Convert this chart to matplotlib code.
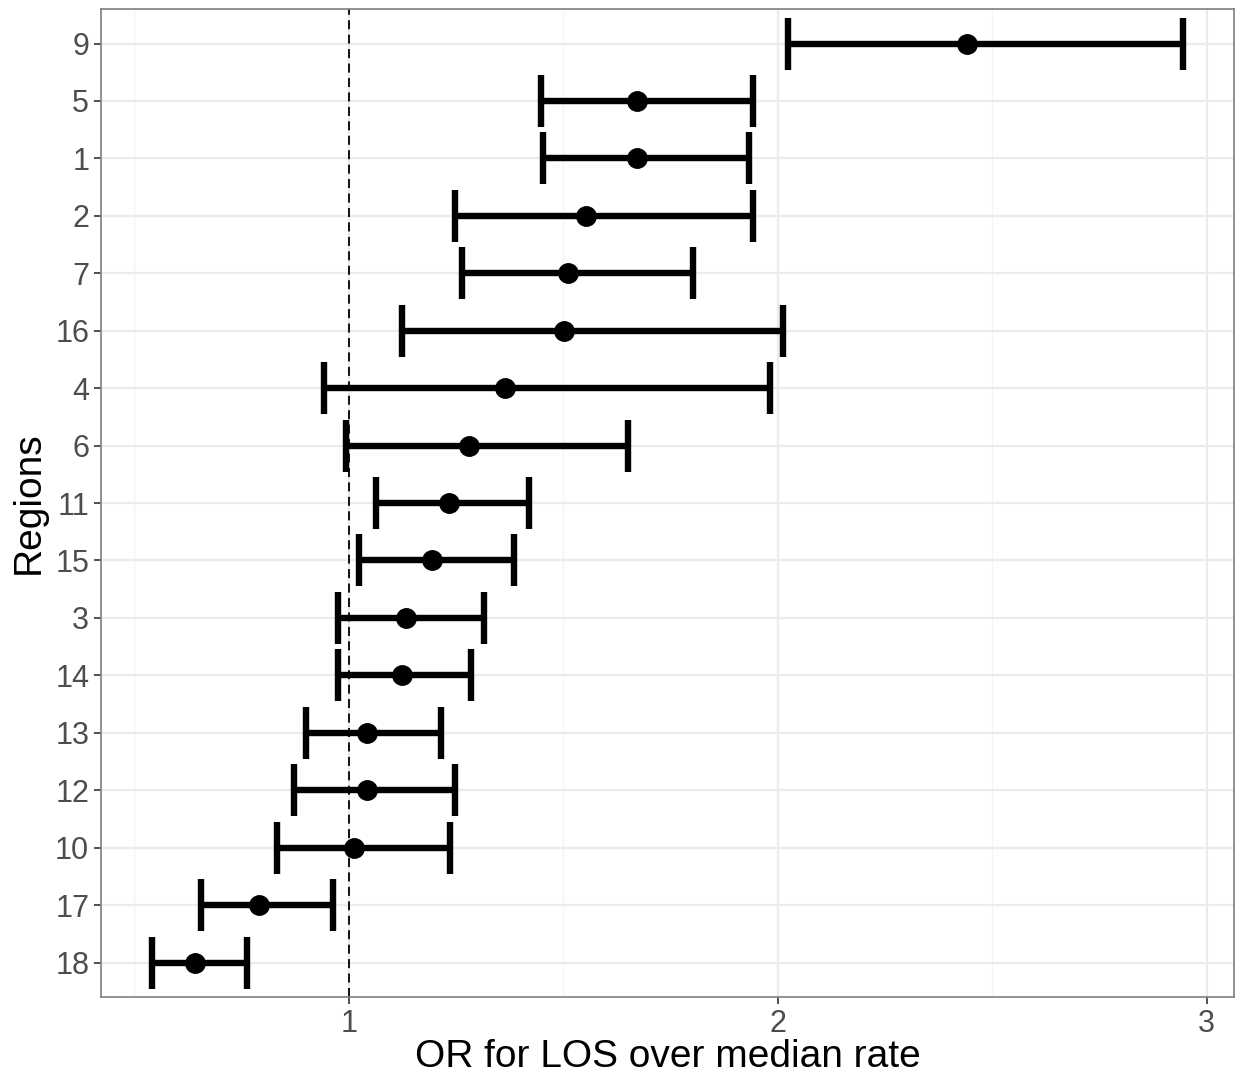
import numpy as np
import matplotlib
matplotlib.use('Agg')
import matplotlib.pyplot as plt

# regions top to bottom
regions = ['9', '5', '1', '2', '7', '16', '4', '6', '11', '15', '3', '14', '13', '12', '10', '17', '18']
or_est = [2.442, 1.672, 1.672, 1.553, 1.512, 1.502, 1.363, 1.281, 1.233, 1.193, 1.133, 1.123, 1.042, 1.042, 1.012, 0.791, 0.642]
ci_lo = [2.023, 1.447, 1.453, 1.247, 1.263, 1.123, 0.942, 0.993, 1.063, 1.023, 0.974, 0.974, 0.900, 0.872, 0.833, 0.656, 0.542]
ci_hi = [2.944, 1.942, 1.933, 1.942, 1.802, 2.012, 1.981, 1.651, 1.421, 1.384, 1.316, 1.284, 1.214, 1.247, 1.235, 0.963, 0.763]

plt.rcParams['font.family'] = ['Liberation Sans', 'DejaVu Sans']

fig = plt.figure(figsize=(12.42, 10.77), dpi=100)
ax = fig.add_axes([0.0813, 0.0743, 0.9936 - 0.0813, 0.9916 - 0.0743])

n = len(regions)
y = np.arange(n)[::-1] + 1
est = np.array(or_est)
lo = np.array(ci_lo)
hi = np.array(ci_hi)

ax.errorbar(est, y, xerr=[est - lo, hi - est], fmt='o', color='black',
            ecolor='black', elinewidth=4.6, capsize=18.5, capthick=4.6,
            markersize=14, zorder=3)
ax.axvline(1, color='black', linestyle=(0, (5, 3)), linewidth=1.3, zorder=2)

span = hi.max() - lo.min()
ax.set_xlim(lo.min() - 0.05 * span, hi.max() + 0.05 * span)
ax.set_ylim(0.4, n + 0.6)
ax.set_yticks(y)
ax.set_yticklabels(regions)
ax.set_xticks([1, 2, 3])
ax.set_xticks([0.5, 1.5, 2.5], minor=True)

ax.grid(True, which='major', color='#ebebeb', linewidth=1.6, zorder=0)
ax.grid(True, which='minor', axis='x', color='#f4f4f4', linewidth=0.9, zorder=0)
ax.set_axisbelow(True)
ax.tick_params(which='major', length=5, width=1.2, color='#333333',
               labelsize=22, labelcolor='#4d4d4d')
ax.tick_params(which='minor', length=0)
for s in ax.spines.values():
    s.set_color('#7f7f7f')
    s.set_linewidth(1.2)

ax.set_xlabel('OR for LOS over median rate', fontsize=28, labelpad=0)
ax.set_ylabel('Regions', fontsize=28, labelpad=6)

fig.savefig('out.png', dpi=100)
